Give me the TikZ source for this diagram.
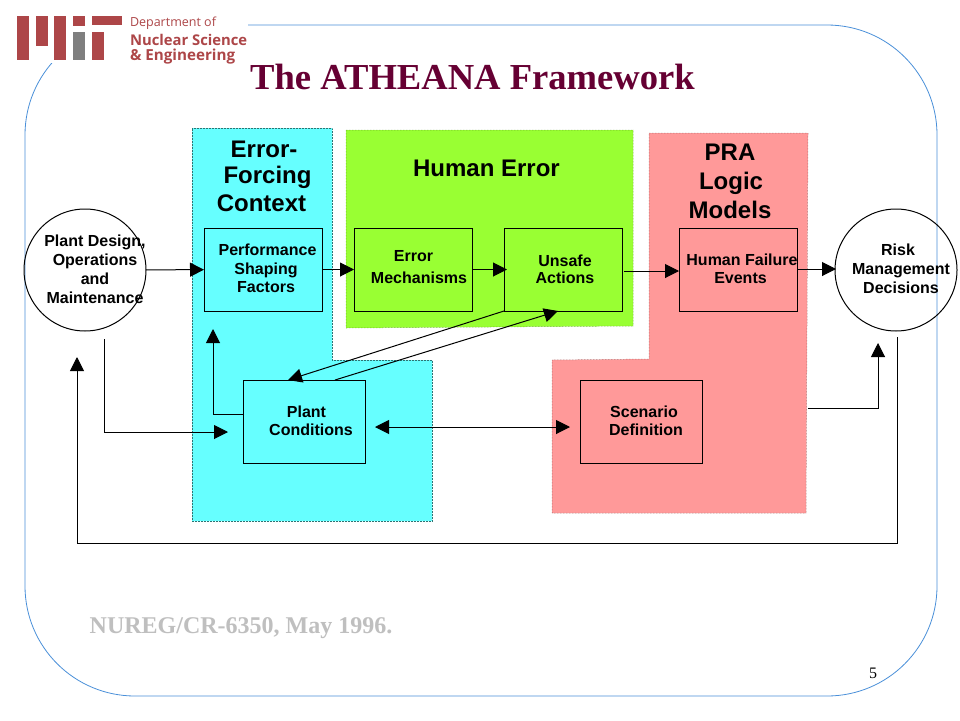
\documentclass[tikz,border=0pt]{standalone}
\usepackage{fontspec}
\setmainfont{Liberation Sans}
\newfontfamily\serifface{Liberation Serif}
\newfontfamily\logoface{Open Sans}
\usetikzlibrary{arrows.meta,positioning}
\definecolor{framecol}{HTML}{4A90D9}
\definecolor{titlecol}{HTML}{660033}
\definecolor{logocol}{HTML}{AD4648}
\definecolor{logogrey}{HTML}{7F7F7F}
\definecolor{cyanarea}{HTML}{66FFFF}
\definecolor{greenarea}{HTML}{99FF33}
\definecolor{pinkarea}{HTML}{FF9999}

\begin{document}
\begin{tikzpicture}[x=1pt,y=-1pt,->,>={Triangle[length=14pt,width=14pt]},line width=1pt,
                    squarednode/.style={rectangle, draw=black, minimum width=118pt, minimum height=83pt, inner sep=0pt, outer sep=0pt},
                    roundnode/.style={circle, draw=black, minimum size=122pt, inner sep=0pt, outer sep=0pt},
                    boxtext/.style={align=center, font=\fontsize{16}{19}\selectfont\bfseries},
                    headtext/.style={align=center, font=\fontsize{24}{27}\selectfont\bfseries},
                    logobar/.style={draw=none, fill=logocol}]
      \useasboundingbox (0,0) rectangle (960,720);
      \fill[white] (0,0) rectangle (960,720);

      % slide frame
      \draw[-, framecol, line width=.8pt, rounded corners=110pt] (25,25) rectangle (937,696);

      % logo
      \fill[white] (0,0) rectangle (248,63);
      \fill[logobar] (16.5,16) rectangle (29,60);
      \fill[logobar] (36,16) rectangle (48,46);
      \fill[logobar] (54,16) rectangle (66,60);
      \fill[logobar] (73,16) rectangle (85,26);
      \fill[logogrey] (73,32) rectangle (85,60);
      \fill[logobar] (92,16) rectangle (122,25);
      \fill[logobar] (92,32) rectangle (104,60);
      \node[anchor=west, inner sep=0pt, text=logocol, font=\fontsize{12.5}{14}\logoface] (dept) at (129.5,23) {Department of};
      \node[anchor=west, inner sep=0pt, text=logocol, font=\fontsize{14.8}{16}\logoface\bfseries] (nuclear) at (129.5,40) {Nuclear Science};
      \node[anchor=west, inner sep=0pt, text=logocol, font=\fontsize{15.2}{16}\logoface\bfseries] (engin) at (129.5,57) {\& Engineering};

      \node[text=titlecol, font=\fontsize{36.6}{40}\serifface\bfseries] (title) at (472.5,77) {The ATHEANA Framework};

      % shaded areas
      \fill[cyanarea] (192,128) -- (332,128) -- (332,360) -- (432,360) -- (432,521) -- (192,521) -- cycle;
      \fill[greenarea] (346,130) -- (633,130) -- (633,326) -- (346,328) -- cycle;
      \fill[pinkarea] (649,133) -- (808,133) -- (806,513) -- (552,513) -- (552,360) -- (649,359) -- cycle;
      \draw[-, densely dotted, line width=.5pt, black!55!cyanarea] (192,128) -- (332,128) -- (332,360) -- (432,360) -- (432,521) -- (192,521) -- cycle;
      \draw[-, densely dotted, line width=.5pt, black!45!greenarea] (346,130) -- (633,130) -- (633,326) -- (346,328) -- cycle;
      \draw[-, densely dotted, line width=.5pt, black!45!pinkarea] (649,133) -- (808,133) -- (806,513) -- (552,513) -- (552,360) -- (649,359) -- cycle;

      \node[headtext] (forcing) at (264,176.5) {Error-\\[-1pt]\hspace*{7pt}Forcing\\[.5pt]Context\hspace*{5pt}};
      \node[headtext] (human) at (486.5,168) {Human Error};
      \node[headtext] (pra) at (730,181) {PRA\\[2pt]\hspace*{2pt}Logic\\[2pt]Models};

      % boxes
      \node[squarednode]                          (psf) at (263,269.5) {};
      \node[squarednode, right=32pt of psf]       (errm) {};
      \node[squarednode, right=32pt of errm]      (unsafe) {};
      \node[squarednode, right=57pt of unsafe]    (hfe) {};
      \node[squarednode, minimum width=122pt]     (plant) at (304,421.5) {};
      \node[squarednode, minimum width=122pt, right=215pt of plant] (scen) {};
      \node[roundnode] (plantd) at (85,270) {};
      \node[roundnode] (risk) at (896,270) {};

      \node[boxtext] (plantdt) at (95,269) {Plant Design,\\Operations\\and\\Maintenance};
      \node[boxtext] (riskt) at (901,268.5) {\hspace*{-6pt}Risk\\Management\\Decisions};
      \node[boxtext] (psft) at (267.5,268.5) {Performance\\[-.5pt]\hspace*{-3pt}Shaping\\[-.5pt]\hspace*{-3pt}Factors};
      \node[boxtext] (errmt) at (419,267) {\hspace*{-11pt}Error\\[3pt]Mechanisms};
      \node[boxtext] (unsafet) at (565,269) {Unsafe\\[-2pt]Actions};
      \node[boxtext] (hfet) at (742,269) {Human Failure\\[-1pt]\hspace*{-3pt}Events};
      \node[boxtext] (plantt) at (311,421) {\hspace*{-9pt}Plant\\[-1pt]Conditions};
      \node[boxtext] (scent) at (646,421) {\hspace*{-4pt}Scenario\\[-1pt]Definition};

      \coordinate (pinkout) at (808,408);
      \coordinate (riskin) at (878,343);
      \coordinate (riskout) at (897,337);
      \coordinate (plantdin) at (77,357);
      \coordinate (plantdout) at (104,339);
      \coordinate (plantin) at (228,432);
      \coordinate (psfin) at (213,329);

      % connectors
      \draw (plantd) -- (psf);
      \draw (psf) -- (errm);
      \draw[shorten >=-3pt] (errm) -- (unsafe);
      \draw[shorten <=2pt] (unsafe.east |- 0,271) -- (hfe.west |- 0,271);
      \draw[shorten >=-1pt] (hfe.east |- 0,269) -- (risk.west |- 0,269);
      \draw (unsafe.south west) -- (plant.north -| 288,380);
      \draw (plant.north -| 335,380) -- (unsafe.south -| 558,311);
      \draw (plant.west |- 0,414) -| (psfin);
      \draw (plantdout) |- (plantin);
      \draw[<->] (375,427) coordinate (plantr) -- (570,427) coordinate (scenl);
      \draw (pinkout) -| (riskin);
      \draw (riskout) |- (77,543) -- (plantdin);

      \node[text=black!25, font=\fontsize{24}{28}\serifface\bfseries] (nureg) at (241,628.5) {NUREG/CR-6350, May 1996.};
      \node[font=\fontsize{16}{18}\serifface] (pagenum) at (873,673) {5};
\end{tikzpicture}
\end{document}
